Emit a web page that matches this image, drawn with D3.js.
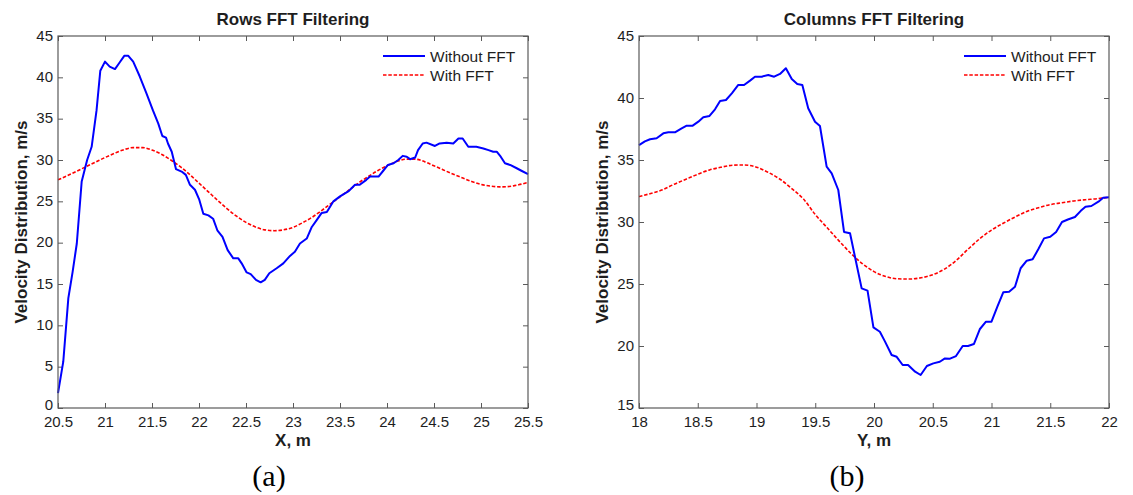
<!DOCTYPE html>
<html>
<head>
<meta charset="utf-8">
<script src="https://cdn.jsdelivr.net/npm/d3@7"></script>
<style>
  html, body { margin: 0; padding: 0; background: #fff; }
  svg { display: block; }
</style>
</head>
<body>
<svg id="chart" width="1133" height="495"></svg>
<script>
// ---- Panel (a): rows FFT filtering ----
const rowsX = [20.50, 20.556, 20.61, 20.656, 20.70, 20.752, 20.81, 20.858, 20.91, 20.95,
  21.00, 21.05, 21.106, 21.15, 21.205, 21.248, 21.30, 21.37, 21.44, 21.51,
  21.567, 21.61, 21.649, 21.67, 21.71, 21.755, 21.815, 21.86, 21.904, 21.957,
  22.003, 22.046, 22.10, 22.15, 22.195, 22.25, 22.305, 22.365, 22.418, 22.454,
  22.507, 22.55, 22.606, 22.656, 22.70, 22.748, 22.826, 22.897, 22.968, 23.02,
  23.074, 23.146, 23.20, 23.25, 23.305, 23.36, 23.43, 23.50, 23.588, 23.66,
  23.71, 23.78, 23.82, 23.91, 23.96, 24.01, 24.07, 24.12, 24.167, 24.21,
  24.245, 24.30, 24.33, 24.38, 24.42, 24.51, 24.56, 24.635, 24.705, 24.76,
  24.805, 24.865, 24.95, 25.025, 25.08, 25.13, 25.167, 25.21, 25.255, 25.31,
  25.38, 25.43, 25.50];
const rowsRaw = [1.8, 5.6, 13.3, 16.5, 19.9, 27.4, 30.0, 31.6, 36.0, 40.8,
  41.9, 41.3, 41.0, 41.7, 42.6, 42.6, 41.9, 40.1, 38.1, 36.0,
  34.4, 32.9, 32.7, 32.0, 31.0, 28.9, 28.6, 28.2, 27.0, 26.4,
  25.2, 23.5, 23.3, 22.9, 21.5, 20.7, 19.1, 18.1, 18.1, 17.5,
  16.4, 16.2, 15.5, 15.2, 15.5, 16.3, 16.9, 17.5, 18.4, 18.9,
  19.9, 20.5, 21.9, 22.7, 23.6, 23.7, 25.0, 25.6, 26.2, 27.0,
  27.0, 27.6, 28.0, 28.0, 28.7, 29.4, 29.6, 30.0, 30.5, 30.4,
  30.1, 30.3, 31.2, 32.0, 32.1, 31.7, 32.0, 32.1, 32.0, 32.6,
  32.6, 31.6, 31.6, 31.4, 31.2, 31.0, 31.0, 30.4, 29.6, 29.4,
  29.0, 28.7, 28.3];
const rowsFiltX = [20.5, 20.6, 20.7, 20.8, 20.9, 21.0, 21.1, 21.2, 21.3, 21.4,
  21.5, 21.6, 21.7, 21.8, 21.9, 22.0, 22.1, 22.2, 22.3, 22.4,
  22.5, 22.6, 22.7, 22.8, 22.9, 23.0, 23.1, 23.2, 23.3, 23.4,
  23.5, 23.6, 23.7, 23.8, 23.9, 24.0, 24.1, 24.2, 24.3, 24.4,
  24.5, 24.6, 24.7, 24.8, 24.9, 25.0, 25.1, 25.2, 25.3, 25.4, 25.5];
const rowsFilt = [27.6, 28.1, 28.65, 29.2, 29.75, 30.3, 30.8, 31.25, 31.5, 31.5,
  31.2, 30.7, 30.0, 29.2, 28.25, 27.2, 26.15, 25.1, 24.1, 23.2,
  22.45, 21.9, 21.55, 21.45, 21.55, 21.85, 22.4, 23.05, 23.85, 24.7,
  25.55, 26.4, 27.25, 28.0, 28.7, 29.3, 29.8, 30.1, 30.1, 29.8,
  29.3, 28.8, 28.3, 27.85, 27.4, 27.05, 26.85, 26.75, 26.8, 27.0, 27.3];
const rowsXTicks = [20.5, 21, 21.5, 22, 22.5, 23, 23.5, 24, 24.5, 25, 25.5];
const rowsYTicks = [0, 5, 10, 15, 20, 25, 30, 35, 40, 45];

// ---- Panel (b): columns FFT filtering ----
const colsY = [18.00, 18.05, 18.094, 18.15, 18.207, 18.25, 18.306, 18.363, 18.406, 18.457,
  18.505, 18.547, 18.60, 18.647, 18.69, 18.74, 18.79, 18.845, 18.894, 18.945,
  18.987, 19.044, 19.10, 19.15, 19.20, 19.25, 19.30, 19.347, 19.39, 19.44,
  19.498, 19.54, 19.597, 19.64, 19.696, 19.745, 19.796, 19.838, 19.895, 19.945,
  19.995, 20.05, 20.094, 20.15, 20.193, 20.244, 20.29, 20.35, 20.397, 20.45,
  20.505, 20.56, 20.604, 20.647, 20.698, 20.755, 20.80, 20.85, 20.90, 20.953,
  21.00, 21.05, 21.10, 21.15, 21.20, 21.248, 21.30, 21.35, 21.398, 21.447,
  21.50, 21.55, 21.60, 21.65, 21.71, 21.76, 21.80, 21.85, 21.91, 21.95, 22.00];
const colsRaw = [36.2, 36.5, 36.67, 36.75, 37.15, 37.23, 37.23, 37.55, 37.77, 37.77,
  38.09, 38.44, 38.55, 39.09, 39.76, 39.84, 40.38, 41.05, 41.05, 41.4,
  41.72, 41.72, 41.85, 41.72, 41.94, 42.4, 41.53, 41.13, 41.05, 39.17,
  38.09, 37.74, 34.46, 33.93, 32.58, 29.2, 29.09, 27.2, 24.65, 24.46,
  21.5, 21.15, 20.35, 19.27, 19.13, 18.47, 18.47, 17.93, 17.66, 18.39,
  18.6, 18.73, 19.0, 18.98, 19.19, 20.0, 20.0, 20.16, 21.35, 21.96,
  21.96, 23.17, 24.33, 24.38, 24.78, 26.27, 26.88, 26.99, 27.8, 28.68,
  28.81, 29.2, 30.0, 30.2, 30.4, 30.9, 31.23, 31.29, 31.64, 31.96, 31.99];
const colsFiltY = [18.0, 18.1, 18.2, 18.3, 18.4, 18.5, 18.6, 18.7, 18.8, 18.9,
  19.0, 19.1, 19.2, 19.3, 19.4, 19.5, 19.6, 19.7, 19.8, 19.9,
  20.0, 20.1, 20.2, 20.3, 20.4, 20.5, 20.6, 20.7, 20.8, 20.9,
  21.0, 21.1, 21.2, 21.3, 21.4, 21.5, 21.6, 21.7, 21.8, 21.9, 22.0];
const colsFilt = [32.05, 32.3, 32.6, 33.05, 33.45, 33.85, 34.2, 34.42, 34.58, 34.6,
  34.42, 34.0, 33.45, 32.7, 31.85, 30.6, 29.55, 28.5, 27.5, 26.65,
  26.0, 25.6, 25.42, 25.4, 25.5, 25.75, 26.2, 26.9, 27.8, 28.65,
  29.35, 29.9, 30.4, 30.85, 31.15, 31.4, 31.55, 31.7, 31.8, 31.88, 32.0];
const colsXTicks = [18, 18.5, 19, 19.5, 20, 20.5, 21, 21.5, 22];
const colsYTicks = [15, 20, 25, 30, 35, 40, 45];

const legendLabels = ["Without FFT", "With FFT"];
const yAxisLabel = "Velocity Distribution, m/s";

const SANS = "'Liberation Sans', Arial, Helvetica, sans-serif";
const SERIF = "'Liberation Serif', 'Times New Roman', serif";
const RAW_COLOR = "#0000ff";
const FILT_COLOR = "#ff0000";
const AXIS_COLOR = "#5a5a5a";
const TEXT_COLOR = "#1e1e1e";

const svg = d3.select("#chart");
svg.append("rect").attr("width", 1133).attr("height", 495).attr("fill", "#fff");

function drawPanel(p) {
  const { left, right, top, bottom } = p.box;
  const x = d3.scaleLinear().domain(p.xDomain).range([left, right]);
  const y = d3.scaleLinear().domain(p.yDomain).range([bottom, top]);
  const g = svg.append("g");

  // mirrored inward ticks on top and right
  g.append("g").attr("transform", `translate(0,${top})`)
    .call(d3.axisTop(x).tickValues(p.xTicks).tickSizeInner(-5).tickSizeOuter(0).tickFormat(""))
    .call(s => s.select(".domain").remove());
  g.append("g").attr("transform", `translate(${right},0)`)
    .call(d3.axisRight(y).tickValues(p.yTicks).tickSizeInner(-5).tickSizeOuter(0).tickFormat(""))
    .call(s => s.select(".domain").remove());

  const xa = g.append("g").attr("transform", `translate(0,${bottom})`)
    .call(d3.axisBottom(x).tickValues(p.xTicks).tickSizeInner(-5).tickSizeOuter(0)
      .tickPadding(8).tickFormat(d3.format("")));
  xa.select(".domain").remove();
  const ya = g.append("g").attr("transform", `translate(${left},0)`)
    .call(d3.axisLeft(y).tickValues(p.yTicks).tickSizeInner(-5).tickSizeOuter(0)
      .tickPadding(5).tickFormat(d3.format("")));
  ya.select(".domain").remove();
  ya.selectAll(".tick text").attr("dy", "0.28em");
  // the lowest label sits slightly raised, clear of the x labels below it
  ya.selectAll(".tick text").filter(d => d === p.yDomain[0]).attr("dy", "0.08em");

  g.selectAll(".tick line").attr("stroke", AXIS_COLOR).attr("stroke-width", 1);
  g.selectAll(".tick text").attr("fill", TEXT_COLOR)
    .style("font-family", SANS).style("font-size", "15px");

  // data lines
  const rawLine = d3.line().x(d => x(d[0])).y(d => y(d[1]));
  const filtLine = d3.line().x(d => x(d[0])).y(d => y(d[1])).curve(d3.curveMonotoneX);

  g.append("path")
    .datum(p.filtX.map((v, i) => [v, p.filt[i]]))
    .attr("d", filtLine).attr("fill", "none")
    .attr("stroke", FILT_COLOR).attr("stroke-width", 1.6)
    .attr("stroke-dasharray", "3.5,1.8");
  g.append("path")
    .datum(p.rawX.map((v, i) => [v, p.raw[i]]))
    .attr("d", rawLine).attr("fill", "none")
    .attr("stroke", RAW_COLOR).attr("stroke-width", 2)
    .attr("stroke-linejoin", "round");

  // axes box
  g.append("rect")
    .attr("x", left).attr("y", top)
    .attr("width", right - left).attr("height", bottom - top)
    .attr("fill", "none").attr("stroke", AXIS_COLOR).attr("stroke-width", 1.2);

  // title
  g.append("text")
    .attr("x", (left + right) / 2).attr("y", 25)
    .attr("text-anchor", "middle")
    .style("font-family", SANS).style("font-size", "17px").style("font-weight", "bold")
    .attr("fill", TEXT_COLOR).text(p.title);

  // axis labels
  g.append("text")
    .attr("x", (left + right) / 2).attr("y", 446)
    .attr("text-anchor", "middle")
    .style("font-family", SANS).style("font-size", "17px").style("font-weight", "bold")
    .attr("fill", TEXT_COLOR).text(p.xLabel);
  g.append("text")
    .attr("transform", `translate(${left - 31.5},${(top + bottom) / 2}) rotate(-90)`)
    .attr("text-anchor", "middle")
    .style("font-family", SANS).style("font-size", "17px").style("font-weight", "bold")
    .attr("fill", TEXT_COLOR).text(yAxisLabel);

  // legend
  const legend = g.append("g").attr("transform", `translate(${right - 145},0)`);
  const rows = [
    { label: legendLabels[0], color: RAW_COLOR, width: 2, dash: null, y: 56 },
    { label: legendLabels[1], color: FILT_COLOR, width: 1.6, dash: "3.5,1.8", y: 75 }
  ];
  rows.forEach(r => {
    legend.append("line")
      .attr("x1", 0).attr("x2", 42).attr("y1", r.y).attr("y2", r.y)
      .attr("stroke", r.color).attr("stroke-width", r.width)
      .attr("stroke-dasharray", r.dash);
    legend.append("text")
      .attr("x", 47).attr("y", r.y + 5.5)
      .style("font-family", SANS).style("font-size", "15.5px")
      .attr("fill", TEXT_COLOR).text(r.label);
  });

  // panel tag
  g.append("text")
    .attr("x", p.tagX).attr("y", 486)
    .attr("text-anchor", "middle")
    .style("font-family", SERIF).style("font-size", "30px")
    .attr("fill", "#000").text(p.tag);
}

drawPanel({
  box: { left: 58, right: 528, top: 36, bottom: 408 },
  xDomain: [20.5, 25.5], yDomain: [0, 45],
  xTicks: rowsXTicks, yTicks: rowsYTicks,
  rawX: rowsX, raw: rowsRaw, filtX: rowsFiltX, filt: rowsFilt,
  title: "Rows FFT Filtering", xLabel: "X, m", tag: "(a)", tagX: 269
});

drawPanel({
  box: { left: 639, right: 1109, top: 36, bottom: 408 },
  xDomain: [18, 22], yDomain: [15, 45],
  xTicks: colsXTicks, yTicks: colsYTicks,
  rawX: colsY, raw: colsRaw, filtX: colsFiltY, filt: colsFilt,
  title: "Columns FFT Filtering", xLabel: "Y, m", tag: "(b)", tagX: 847
});
</script>
</body>
</html>
